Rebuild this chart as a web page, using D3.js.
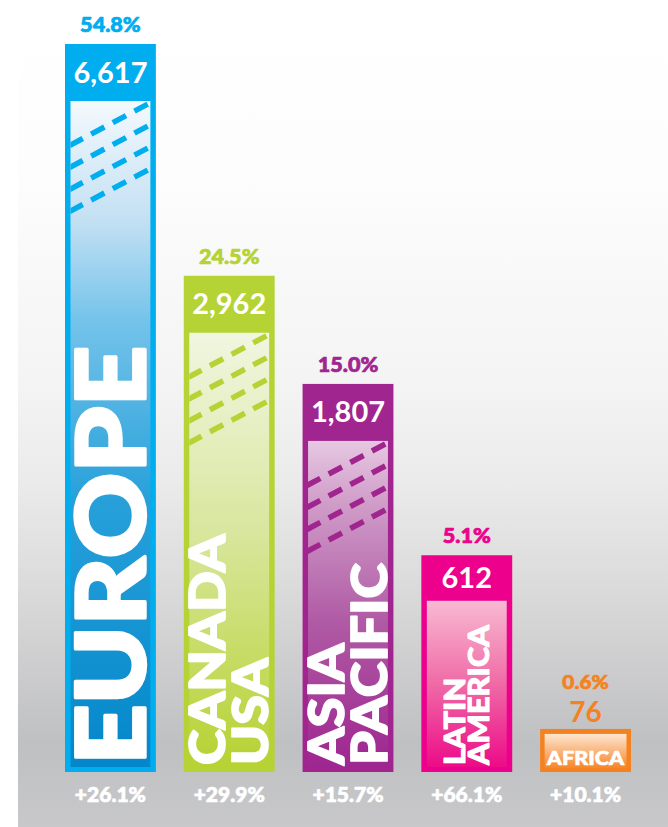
<!DOCTYPE html>
<html><head><meta charset="utf-8">
<script src="https://cdn.jsdelivr.net/npm/d3@7"></script>
<style>html,body{margin:0;padding:0;background:#fff;} svg{display:block;}</style>
</head><body>
<script>
// ---- data ----
const regions = ["Europe", "Canada USA", "Asia Pacific", "Latin America", "Africa"];
const labelLines = [["EUROPE"], ["CANADA", "USA"], ["ASIA", "PACIFIC"], ["LATIN", "AMERICA"], ["AFRICA"]];
const members = [6617, 2962, 1807, 612, 76];
const shares = [54.8, 24.5, 15.0, 5.1, 0.6];
const growth = [26.1, 29.9, 15.7, 66.1, 10.1];

// ---- styles ----
const palette = ["#00aeef", "#b5d334", "#a1258f", "#ec008c", "#f58220"];
const innerStops = [
  [[0, "#f4f9fd"], [0.18, "#c3e0f3"], [0.33, "#74c3ea"], [0.6, "#27a0da"], [1, "#0387ca"]],
  [[0, "#f1f6e1"], [0.45, "#d8e79f"], [1, "#b6d232"]],
  [[0, "#e6c8e2"], [0.2, "#cf9bc8"], [0.55, "#b05ba5"], [1, "#9e2690"]],
  [[0, "#f8bad2"], [0.5, "#f06aa6"], [1, "#ec0b88"]],
  [[0, "#fde6d2"], [1, "#f6862a"]]
];
const labelSize = [96, 49, 49, 28, 18];
const striped = [true, true, true, false, false];
const FONT = "'Lato Black', Lato, 'Open Sans', sans-serif";
const FONT_MED = "Lato, 'Open Sans', sans-serif";

const W = 668, H = 827;
const svg = d3.select("body").append("svg").attr("width", W).attr("height", H);
const defs = svg.append("defs");

// background
const bg = defs.append("linearGradient").attr("id", "bg").attr("x1", 0).attr("y1", 0).attr("x2", 0).attr("y2", 1);
[[0, "#ffffff"], [0.2, "#fdfdfd"], [0.46, "#f4f4f4"], [0.58, "#ebebeb"], [0.7, "#dcdcdc"],
 [0.82, "#cbcbcd"], [0.9, "#bfc0c2"], [1, "#c8c8ca"]].forEach(s =>
  bg.append("stop").attr("offset", s[0]).attr("stop-color", s[1]));
svg.append("rect").attr("x", 18).attr("y", 0).attr("width", W - 18).attr("height", H).attr("fill", "url(#bg)");

// scales
const x = d3.scaleBand().domain(regions).range([65, 631]).paddingInner(0.235).paddingOuter(0);
const y = d3.scalePow().exponent(0.42).domain([27.5, d3.max(members)]).range([772, 44]);
const baseY = y.range()[0];

const fmtVal = d3.format(",");
const fmtPct = d3.format(".1f");

function stretch(sel, k) {
  sel.each(function () {
    const len = this.getComputedTextLength();
    d3.select(this).attr("textLength", len * k).attr("lengthAdjust", "spacingAndGlyphs");
  });
}
function heavy(sel, fs, col) {
  sel.style("font-family", FONT).style("font-weight", 900).style("font-size", fs + "px")
    .attr("fill", col).attr("stroke", col).attr("stroke-width", Math.max(0.6, fs * 0.035))
    .attr("stroke-linejoin", "round").style("paint-order", "stroke");
}

regions.forEach((r, i) => {
  const col = palette[i];
  const x0 = x(r), bw = x.bandwidth(), cx = x0 + bw / 2;
  const top = y(members[i]);
  const h = baseY - top;
  const compact = h < 100;
  const g = svg.append("g");

  const gr = defs.append("linearGradient").attr("id", "ig" + i).attr("x1", 0).attr("y1", 0).attr("x2", 0).attr("y2", 1);
  innerStops[i].forEach(s => gr.append("stop").attr("offset", s[0]).attr("stop-color", s[1]));

  g.append("rect").attr("x", x0).attr("y", top).attr("width", bw).attr("height", h).attr("fill", col);

  let ix, iy, iw, ih, band = 0;
  if (!compact) {
    band = Math.min(57, h * 0.21);
    ix = x0 + 5.5; iw = bw - 11; iy = top + band; ih = baseY - 5 - iy;
  } else {
    ix = x0 + 4.5; iw = bw - 9; iy = top + 5; ih = h - 9;
  }
  g.append("rect").attr("x", ix).attr("y", iy).attr("width", iw).attr("height", ih).attr("fill", "url(#ig" + i + ")");

  if (striped[i]) {
    defs.append("clipPath").attr("id", "cp" + i).append("rect")
      .attr("x", ix).attr("y", iy).attr("width", iw).attr("height", ih);
    const sg = g.append("g").attr("clip-path", "url(#cp" + i + ")");
    const slope = 0.53;
    d3.range(4).forEach(k => {
      const yl = iy + 44 + 22 * k;
      const xa = ix - 1, xb = ix + iw + 6;
      sg.append("line")
        .attr("x1", xa).attr("y1", yl + slope * 1)
        .attr("x2", xb).attr("y2", yl - slope * (xb - ix))
        .attr("stroke", col).attr("stroke-width", 5.5)
        .attr("stroke-dasharray", "15,9.5");
    });
  }

  if (!compact) {
    g.append("text").attr("x", cx).attr("y", top + band / 2 + 10)
      .attr("text-anchor", "middle").attr("fill", "#fff")
      .style("font-family", FONT_MED).style("font-weight", 700).style("font-size", "29px")
      .text(fmtVal(members[i]));
    g.append("text").attr("x", cx).attr("y", top - 12)
      .attr("text-anchor", "middle").call(heavy, 20, col)
      .text(fmtPct(shares[i]) + "%").call(stretch, 1.08);
  } else {
    g.append("text").attr("x", cx).attr("y", top - 7)
      .attr("text-anchor", "middle").attr("fill", col)
      .style("font-family", FONT_MED).style("font-weight", 700).style("font-size", "28px")
      .text(fmtVal(members[i]));
    g.append("text").attr("x", cx).attr("y", top - 40)
      .attr("text-anchor", "middle").call(heavy, 19, col)
      .text(fmtPct(shares[i]) + "%").call(stretch, 1.1);
  }

  const lines = labelLines[i];
  const fs = labelSize[i];
  if (!compact) {
    const cap = 0.72 * fs, gap = 0.88 * fs;
    const blockW = cap + (lines.length - 1) * gap;
    const lastBase = cx + blockW / 2;
    lines.forEach((ln, j) => {
      const bx = lastBase - (lines.length - 1 - j) * gap;
      g.append("text")
        .attr("transform", `translate(${bx},${baseY - 7}) rotate(-90)`)
        .call(heavy, fs, "#fff")
        .text(ln)
        .call(stretch, 1.1);
    });
  } else {
    g.append("text").attr("x", cx).attr("y", baseY - 7)
      .attr("text-anchor", "middle").call(heavy, fs, "#fff")
      .text(lines.join(" "))
      .call(stretch, 1.2);
  }

  svg.append("text").attr("x", cx).attr("y", 802)
    .attr("text-anchor", "middle").call(heavy, 20, "#fff")
    .text("+" + fmtPct(growth[i]) + "%").call(stretch, 1.05);
});
</script>
</body></html>
